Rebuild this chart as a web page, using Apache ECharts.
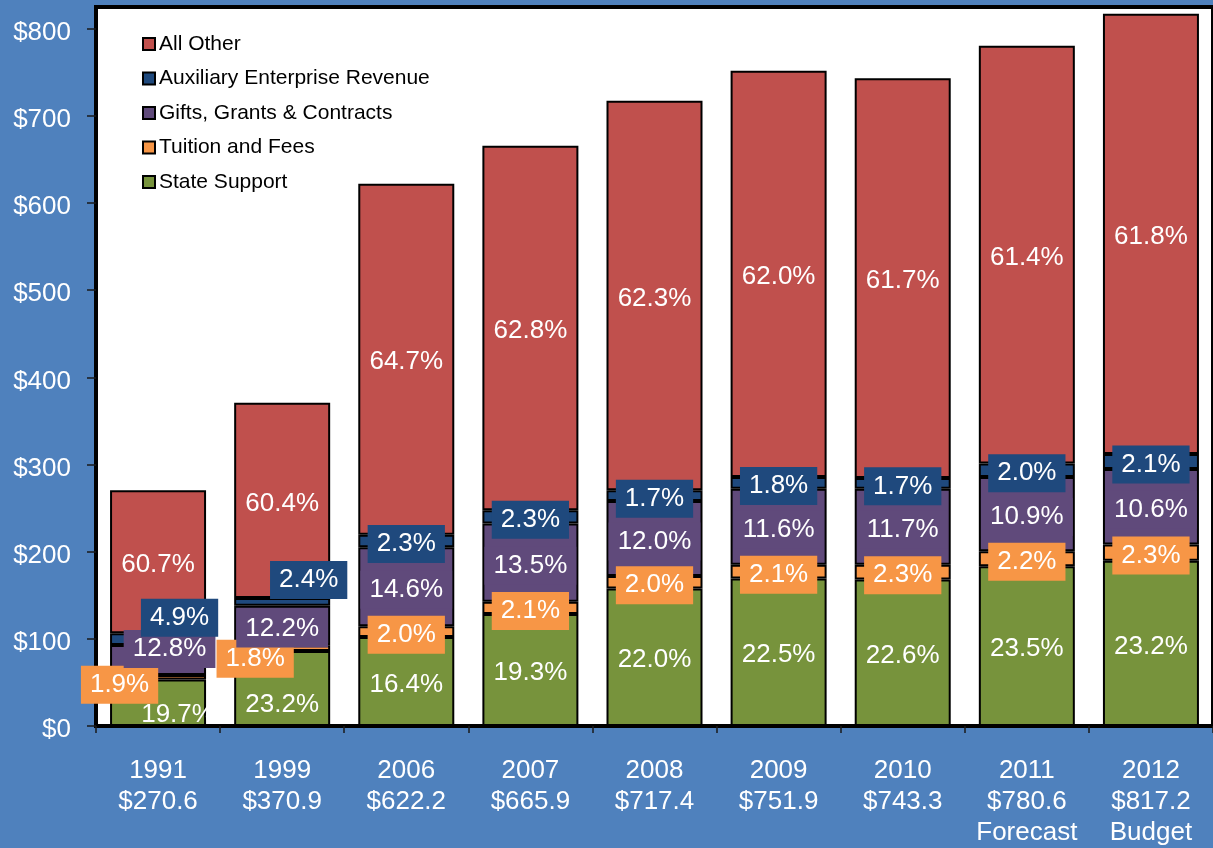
<!DOCTYPE html>
<html><head><meta charset="utf-8">
<script src="https://cdn.jsdelivr.net/npm/echarts@6/dist/echarts.min.js"></script>
<style>html,body{margin:0;padding:0;background:#4F81BD;overflow:hidden}#c{width:1213px;height:848px}</style>
</head><body><div id="c"></div>
<script>
// Categories (x-axis labels)
const categories = ['1991\n$270.6', '1999\n$370.9', '2006\n$622.2', '2007\n$665.9', '2008\n$717.4',
  '2009\n$751.9', '2010\n$743.3', '2011\n$780.6\nForecast', '2012\n$817.2\nBudget'];

// Dollar values (millions) per series
const stateSupport = [53.3, 86.0, 102.0, 128.5, 157.8, 169.2, 168.0, 183.4, 189.6];
const tuitionFees  = [5.1, 6.7, 12.4, 14.0, 14.3, 15.8, 17.1, 17.2, 18.8];
const giftsGrants  = [34.6, 45.2, 90.8, 89.9, 86.1, 87.2, 87.0, 85.1, 86.6];
const auxiliary    = [13.3, 8.9, 14.3, 15.3, 12.2, 13.5, 12.6, 15.6, 17.2];
const allOther     = [164.3, 224.1, 402.7, 418.2, 447.0, 466.2, 458.6, 479.3, 505.0];

// Percentage labels shown in the bars
const statePct   = ['19.7%', '23.2%', '16.4%', '19.3%', '22.0%', '22.5%', '22.6%', '23.5%', '23.2%'];
const tuitionPct = ['1.9%', '1.8%', '2.0%', '2.1%', '2.0%', '2.1%', '2.3%', '2.2%', '2.3%'];
const giftsPct   = ['12.8%', '12.2%', '14.6%', '13.5%', '12.0%', '11.6%', '11.7%', '10.9%', '10.6%'];
const auxPct     = ['4.9%', '2.4%', '2.3%', '2.3%', '1.7%', '1.8%', '1.7%', '2.0%', '2.1%'];
const otherPct   = ['60.7%', '60.4%', '64.7%', '62.8%', '62.3%', '62.0%', '61.7%', '61.4%', '61.8%'];

// Y-axis tick values
const yTicks = [0, 100, 200, 300, 400, 500, 600, 700, 800];

const FONT = '"Liberation Sans", Arial, sans-serif';
const colors = {
  other: '#C0504D', aux: '#1F497D', gifts: '#604A7B', tuition: '#F79646', state: '#77933C'
};

// label offsets for the crowded early bars (layout only)
const baseOffset = [0, 3];
const offsets = {
  state:   {0: [20, 12], 1: [0, 16]},
  tuition: {0: [-38.5, 7.5], 1: [-27, 10.5]},
  gifts:   {0: [11.5, -11]},
  aux:     {0: [21.5, -21.5], 1: [26.5, -22]},
  other:   {}
};

function mkSeries(name, key, vals, pcts, boxed) {
  return {
    name: name,
    type: 'bar',
    stack: 'total',
    barWidth: 96,
    itemStyle: {color: colors[key], borderColor: '#000', borderWidth: 2},
    label: {
      show: true,
      position: 'inside',
      color: '#fff',
      fontSize: 26,
      fontFamily: FONT,
      lineHeight: 26,
      offset: baseOffset,
      backgroundColor: boxed ? colors[key] : 'transparent',
      padding: boxed ? [6, 9] : 0,
      formatter: p => pcts[p.dataIndex]
    },
    data: vals.map((v, i) => {
      const o = offsets[key][i];
      return o ? {value: v, label: {offset: o}} : v;
    })
  };
}

const chart = echarts.init(document.getElementById('c'), null, {renderer: 'canvas'});
chart.setOption({
  backgroundColor: '#4F81BD',
  animation: false,
  textStyle: {fontFamily: FONT},
  grid: {
    left: 96, top: 7, width: 1128, height: 724,
    show: true, backgroundColor: '#fff', borderColor: '#000', borderWidth: 4
  },
  legend: {
    left: 142, top: 33, orient: 'vertical', padding: 0,
    itemWidth: 12, itemHeight: 12, itemGap: 12.5,
    icon: 'rect',
    textStyle: {color: '#000', fontSize: 21, fontFamily: FONT, lineHeight: 22, padding: [0, 0, 0, -1]},
    data: ['All Other', 'Auxiliary Enterprise Revenue', 'Gifts, Grants & Contracts', 'Tuition and Fees', 'State Support']
  },
  xAxis: {
    type: 'category',
    data: categories,
    axisLine: {show: true, lineStyle: {color: '#000', width: 3}},
    axisTick: {show: true, length: 7, lineStyle: {color: '#1a1a1a', width: 1.5}},
    axisLabel: {color: '#fff', fontSize: 26, fontFamily: FONT, lineHeight: 31, margin: 29, interval: 0}
  },
  yAxis: {
    type: 'value',
    min: 0, max: 825, interval: 100,
    splitLine: {show: false},
    axisLine: {show: true, lineStyle: {color: '#000', width: 3}},
    axisTick: {show: true, length: 9, customValues: yTicks, lineStyle: {color: '#1a1a1a', width: 1.5}},
    axisLabel: {
      color: '#fff', fontSize: 26, fontFamily: FONT, margin: 25, customValues: yTicks,
      formatter: v => '{a|$' + v + '}',
      rich: {a: {color: '#fff', fontSize: 26, fontFamily: FONT, padding: [8, 0, 0, 0]}}
    }
  },
  series: [
    mkSeries('State Support', 'state', stateSupport, statePct, false),
    mkSeries('Tuition and Fees', 'tuition', tuitionFees, tuitionPct, true),
    mkSeries('Gifts, Grants & Contracts', 'gifts', giftsGrants, giftsPct, true),
    mkSeries('Auxiliary Enterprise Revenue', 'aux', auxiliary, auxPct, true),
    mkSeries('All Other', 'other', allOther, otherPct, false)
  ]
});
</script>
</body></html>
